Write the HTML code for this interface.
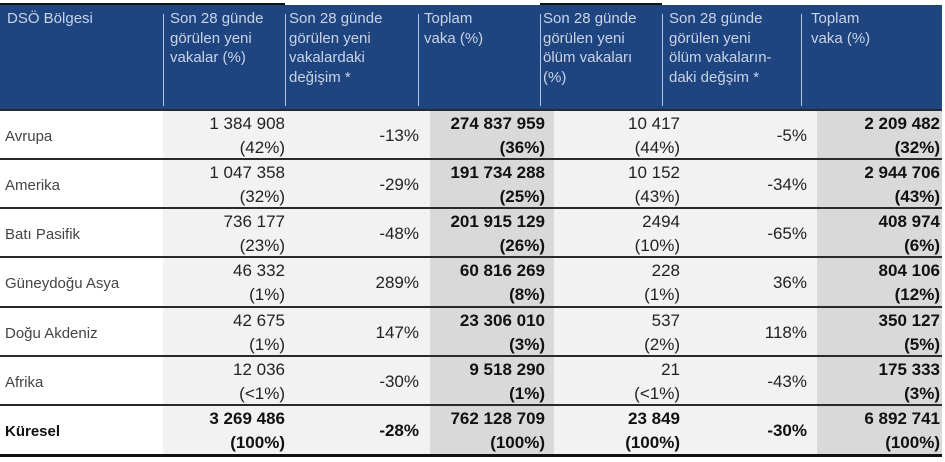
<!DOCTYPE html>
<html><head><meta charset="utf-8"><style>
*{margin:0;padding:0;box-sizing:border-box}
body{width:945px;height:462px;background:#fff;position:relative;overflow:hidden;font-family:"Liberation Sans",sans-serif}
.a{position:absolute}
.hd{background:#1f4580;top:5px;height:105px}
.ht{position:absolute;color:#c9d3e6;font-size:15px;line-height:19.5px;top:9px}
.vl{position:absolute;top:14px;width:1px;height:92px;background:#b8c4dc}
.n{position:absolute;text-align:right;font-size:17px;line-height:24px;color:#222;white-space:nowrap}
.b{font-weight:bold;color:#111}
.lab{position:absolute;left:5px;font-size:15px;color:#444}
.ln{position:absolute;left:0;width:942px;height:2px;background:#2a2a2a}
</style></head><body>
<div class="a hd" style="left:0;width:942px"></div>
<div class="a" style="left:0;top:3px;width:285px;height:2px;background:#111"></div>
<div class="a" style="left:540px;top:3px;width:122px;height:2px;background:#111"></div>
<div class="vl" style="left:163px"></div><div class="vl" style="left:285px"></div><div class="vl" style="left:418px"></div>
<div class="vl" style="left:540px"></div><div class="vl" style="left:662px"></div><div class="vl" style="left:801px"></div>
<div class="ht" style="left:7px">DSÖ Bölgesi</div>
<div class="ht" style="left:170px">Son 28 günde<br>görülen yeni<br>vakalar (%)</div>
<div class="ht" style="left:289px">Son 28 günde<br>görülen yeni<br>vakalardaki<br>değişim *</div>
<div class="ht" style="left:424px">Toplam<br>vaka (%)</div>
<div class="ht" style="left:543px">Son 28 günde<br>görülen yeni<br>ölüm vakaları<br>(%)</div>
<div class="ht" style="left:669px">Son 28 günde<br>görülen yeni<br>ölüm vakaların-<br>daki değşim *</div>
<div class="ht" style="left:811px">Toplam<br>vaka (%)</div>

<div class="a" style="left:163px;top:110px;width:267px;height:345px;background:#f2f2f2"></div>
<div class="a" style="left:430px;top:110px;width:124px;height:345px;background:#d9d9d9"></div>
<div class="a" style="left:554px;top:110px;width:263px;height:345px;background:#f2f2f2"></div>
<div class="a" style="left:817px;top:110px;width:125px;height:345px;background:#d9d9d9"></div>

<div class="ln" style="top:109px"></div>
<div class="ln" style="top:158px"></div>
<div class="ln" style="top:207px"></div>
<div class="ln" style="top:256px"></div>
<div class="ln" style="top:306px"></div>
<div class="ln" style="top:355px"></div>
<div class="ln" style="top:404px"></div>
<div class="ln" style="top:454px;height:3px;background:#111"></div>

<div id="rows"></div>
<script>
var d=[
["Avrupa","1 384 908","(42%)","-13%","274 837 959","(36%)","10 417","(44%)","-5%","2 209 482","(32%)"],
["Amerika","1 047 358","(32%)","-29%","191 734 288","(25%)","10 152","(43%)","-34%","2 944 706","(43%)"],
["Batı Pasifik","736 177","(23%)","-48%","201 915 129","(26%)","2494","(10%)","-65%","408 974","(6%)"],
["Güneydoğu Asya","46 332","(1%)","289%","60 816 269","(8%)","228","(1%)","36%","804 106","(12%)"],
["Doğu Akdeniz","42 675","(1%)","147%","23 306 010","(3%)","537","(2%)","118%","350 127","(5%)"],
["Afrika","12 036","(<1%)","-30%","9 518 290","(1%)","21","(<1%)","-43%","175 333","(3%)"],
["Küresel","3 269 486","(100%)","-28%","762 128 709","(100%)","23 849","(100%)","-30%","6 892 741","(100%)"]];
var tops=[111,160,209,258,308,357,406],h="";
function e(s){return s.replace(/</g,"&lt;")}
d.forEach(function(r,i){var t=tops[i],last=i==6;
h+='<div class="lab" style="top:'+(t+17)+'px;'+(last?'font-weight:bold;color:#111':'')+'">'+r[0]+'</div>';
function two(rt,a,b,bold){h+='<div class="n'+(bold?' b':'')+'" style="right:'+(945-rt)+'px;top:'+(t+1)+'px">'+e(a)+'<br>'+e(b)+'</div>'}
function one(rt,a,bold){h+='<div class="n'+(bold?' b':'')+'" style="right:'+(945-rt)+'px;top:'+(t+13)+'px">'+e(a)+'</div>'}
two(285,r[1],r[2],last);one(419,r[3],last);two(545,r[4],r[5],true);two(680,r[6],r[7],last);one(807,r[8],last);two(940,r[9],r[10],true);});
document.getElementById("rows").innerHTML=h;
</script>
</body></html>
